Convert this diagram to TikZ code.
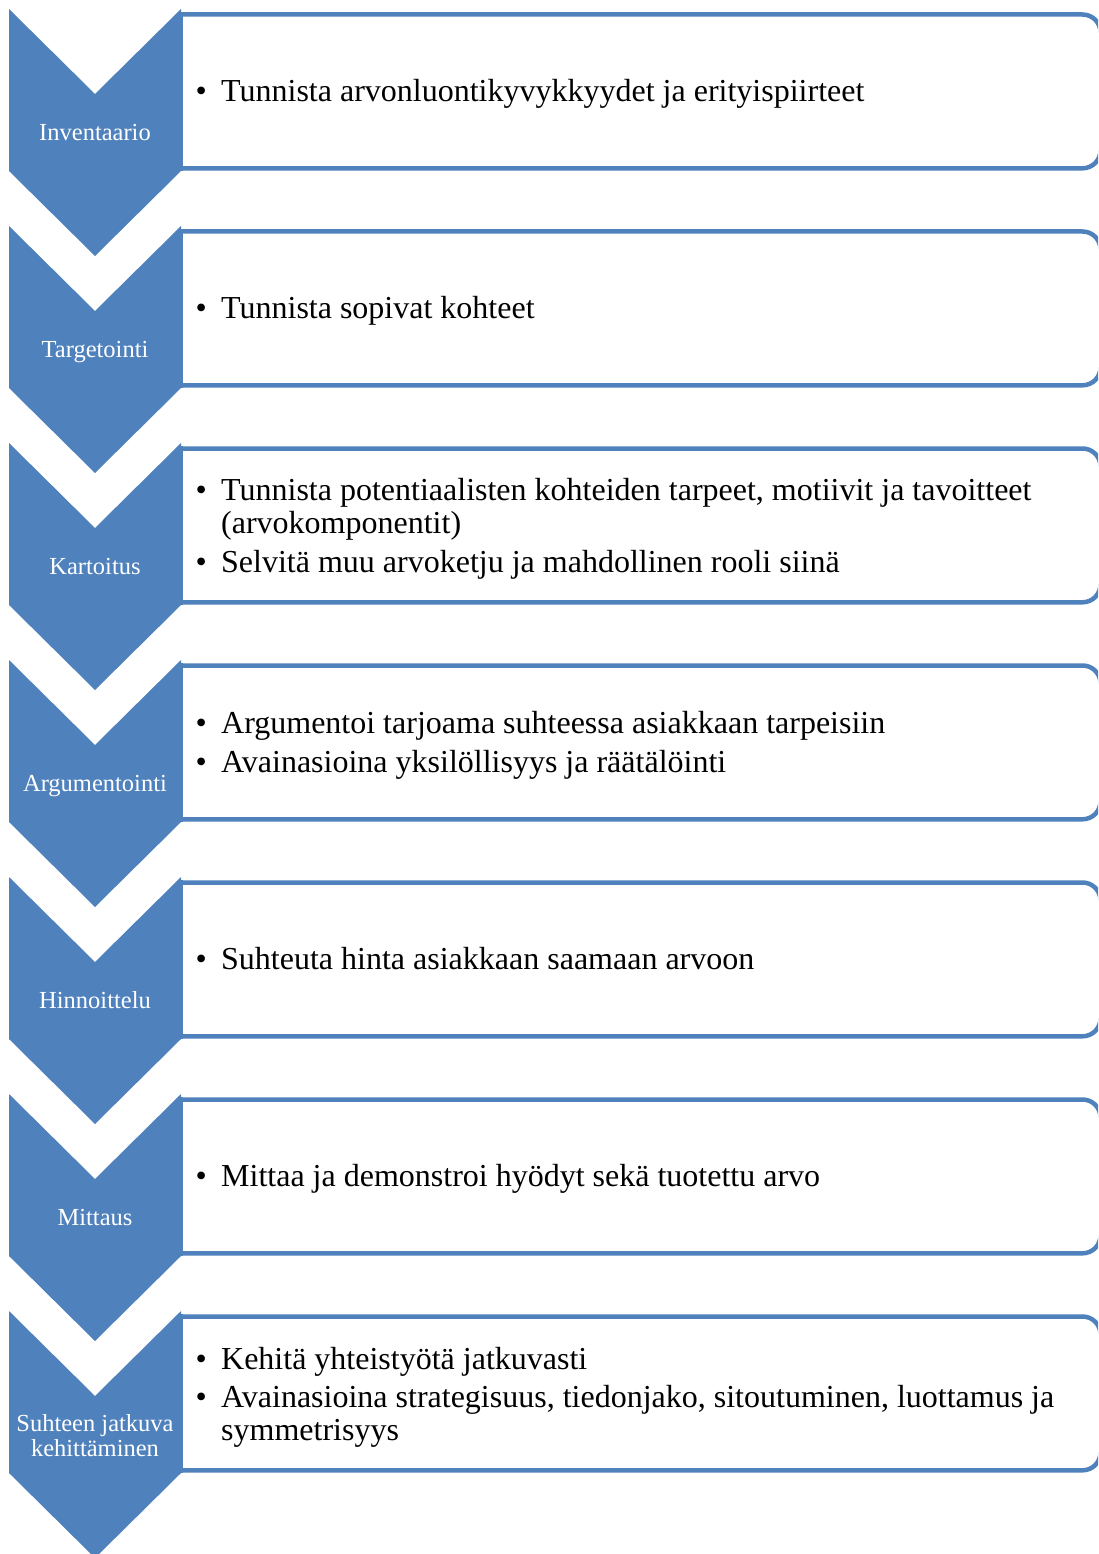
\documentclass[tikz,border=0pt]{standalone}
\usepackage{fontspec}
\setmainfont{Liberation Serif}
\definecolor{acc}{HTML}{4F81BD}
\newcommand\bulmark{\llap{\textbullet\hspace{14.4pt}}}
\begin{document}
\begin{tikzpicture}[x=1pt,y=-1pt,
  chev/.style={fill=acc},
  panel/.style={draw=acc,line width=4.5pt},
  lab/.style={text=white,font=\fontsize{24.5}{25}\selectfont,inner sep=0pt,anchor=base},
  itm/.style={font=\fontsize{32}{32.7}\selectfont,inner sep=0pt,anchor=base west}]
\useasboundingbox (0,0) rectangle (1098,1554);
\begin{scope}
\clip (0,0) rectangle (1098,1554);
\foreach \i in {0,...,6}{
  \pgfmathsetmacro\T{9+217*\i}
  \draw[panel,rounded corners=18pt] (181,\T+5.5) -- (1100.5,\T+5.5) -- (1100.5,\T+159.3) -- (181,\T+159.3);
  \draw[panel,line cap=rect] (181,\T+5.5) -- (181,\T+159.3);
  \fill[chev] (9,\T) -- (95,\T+85) -- (181,\T) -- (181,\T+162) -- (95,\T+247) -- (9,\T+162) -- cycle;
}
\end{scope}
% stage labels
\node[lab] (l1) at (95,140.7) {Inventaario};
\node[lab] (l2) at (95,357.7) {Targetointi};
\node[lab] (l3) at (95,574.5) {Kartoitus};
\node[lab] (l4) at (95,791.5) {Argumentointi};
\node[lab] (l5) at (95,1008.5) {Hinnoittelu};
\node[lab] (l6) at (95,1225.5) {Mittaus};
\node[lab] (l7a) at (95,1431.7) {Suhteen jatkuva};
\node[lab] (l7b) at (95,1456.7) {kehittäminen};
% panel texts
\node[itm] (t1) at (221,101.7) {\bulmark Tunnista arvonluontikyvykkyydet ja erityispiirteet};
\node[itm] (t2) at (221,318.7) {\bulmark Tunnista sopivat kohteet};
\node[itm] (t3a) at (221,500.7) {\bulmark Tunnista potentiaalisten kohteiden tarpeet, motiivit ja tavoitteet};
\node[itm] (t3b) at (221,533.3) {(arvokomponentit)};
\node[itm] (t3c) at (221,572.3) {\bulmark Selvitä muu arvoketju ja mahdollinen rooli siinä};
\node[itm] (t4a) at (221,733.2) {\bulmark Argumentoi tarjoama suhteessa asiakkaan tarpeisiin};
\node[itm] (t4b) at (221,772.2) {\bulmark Avainasioina yksilöllisyys ja räätälöinti};
\node[itm] (t5) at (221,969.7) {\bulmark Suhteuta hinta asiakkaan saamaan arvoon};
\node[itm] (t6) at (221,1186.7) {\bulmark Mittaa ja demonstroi hyödyt sekä tuotettu arvo};
\node[itm] (t7a) at (221,1369) {\bulmark Kehitä yhteistyötä jatkuvasti};
\node[itm] (t7b) at (221,1407.3) {\bulmark Avainasioina strategisuus, tiedonjako, sitoutuminen, luottamus ja};
\node[itm] (t7c) at (221,1440) {symmetrisyys};
\end{tikzpicture}
\end{document}
